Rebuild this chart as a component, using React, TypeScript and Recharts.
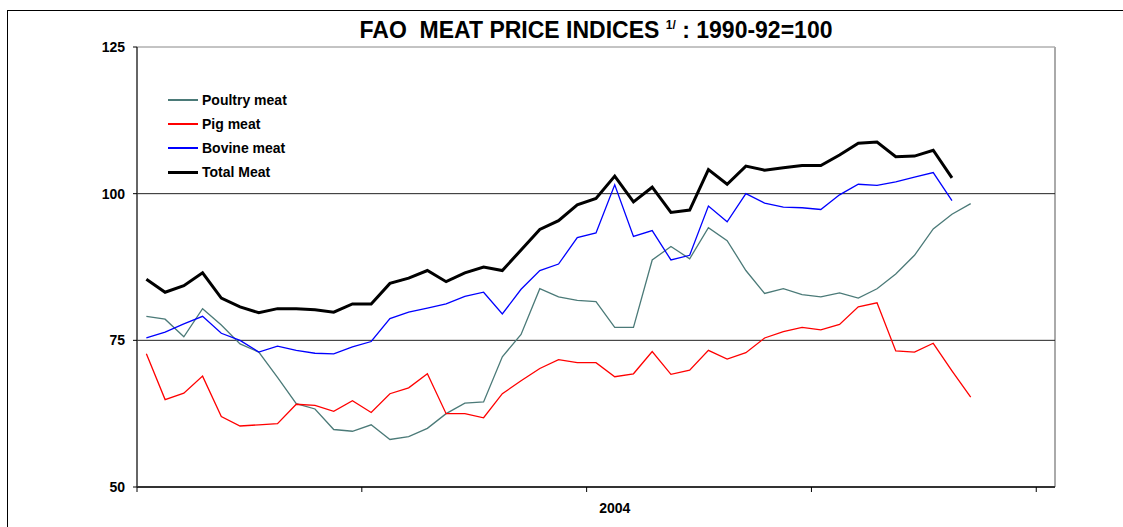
import React from "react";
import { LineChart, Line, XAxis, YAxis, ReferenceLine, Legend } from "recharts";

// Monthly index values (1990-92=100), 49 monthly categories on the axis
const poultry = [
  79.1, 78.6, 75.6, 80.4, 77.6, 74.4, 73.0, 68.7, 64.2, 63.3, 59.8, 59.5,
  60.6, 58.1, 58.6, 60.0, 62.5, 64.3, 64.5, 72.2, 76.0, 83.8, 82.4, 81.8,
  81.6, 77.2, 77.2, 88.7, 91.0, 88.9, 94.2, 92.0, 86.9, 83.0, 83.8, 82.8,
  82.4, 83.1, 82.2, 83.8, 86.3, 89.5, 94.0, 96.5, 98.3,
];
const pig = [
  72.7, 64.9, 66.0, 68.9, 62.0, 60.4, 60.6, 60.8, 64.1, 63.9, 62.9, 64.7,
  62.7, 65.9, 66.9, 69.3, 62.5, 62.5, 61.8, 65.9, 68.1, 70.2, 71.7, 71.2,
  71.2, 68.8, 69.3, 73.1, 69.2, 69.9, 73.3, 71.8, 72.9, 75.4, 76.5, 77.2,
  76.8, 77.7, 80.7, 81.4, 73.2, 73.0, 74.5, 69.8, 65.3,
];
const bovine = [
  75.4, 76.4, 77.8, 79.1, 76.2, 75.0, 73.0, 74.0, 73.3, 72.8, 72.7, 73.9,
  74.8, 78.7, 79.8, 80.5, 81.2, 82.5, 83.2, 79.5, 83.7, 86.9, 88.0, 92.5,
  93.3, 101.5, 92.7, 93.7, 88.7, 89.5, 97.9, 95.2, 100.0, 98.4, 97.7, 97.6,
  97.3, 99.8, 101.6, 101.4, 102.0, 102.8, 103.6, 98.8,
];
const total = [
  85.4, 83.2, 84.3, 86.5, 82.2, 80.7, 79.7, 80.4, 80.4, 80.2, 79.8, 81.2,
  81.2, 84.7, 85.6, 86.9, 85.0, 86.5, 87.5, 86.9, 90.4, 93.9, 95.4, 98.1,
  99.2, 103.0, 98.6, 101.1, 96.8, 97.2, 104.1, 101.6, 104.7, 104.0, 104.4, 104.8,
  104.8, 106.6, 108.6, 108.8, 106.3, 106.4, 107.4, 102.7,
];

const categoryCount = 49;
const yTicks = [50, 75, 100, 125];
const yearBoundaries = [0, 12, 24, 36, 48];
const yearLabelCategory = [25];
const yearLabelText = ["2004"];
const gridValues = [75, 100];

const series = [
  { key: "poultry", name: "Poultry meat", values: poultry, color: "#4b7a78", width: 1.3 },
  { key: "pig", name: "Pig meat", values: pig, color: "#ff0000", width: 1.3 },
  { key: "bovine", name: "Bovine meat", values: bovine, color: "#0000ff", width: 1.3 },
  { key: "total", name: "Total Meat", values: total, color: "#000000", width: 3 },
];

const data = Array.from({ length: categoryCount }, (_, i) => {
  const row: Record<string, number> = { x: i + 0.5 };
  series.forEach((s) => {
    if (i < s.values.length) row[s.key] = s.values[i];
  });
  return row;
});

const FONT = "'Liberation Sans', Arial, sans-serif";

const LegendContent = () => (
  <div style={{ fontFamily: FONT, fontWeight: "bold", fontSize: 14, color: "#000" }}>
    {series.map((s) => (
      <div key={s.key} style={{ display: "flex", alignItems: "center", height: 24 }}>
        <div style={{ width: 30, height: s.width > 2 ? 3 : 1.5, background: s.color, marginRight: 4 }} />
        <span>{s.name}</span>
      </div>
    ))}
  </div>
);

export default function App() {
  return (
    <div
      style={{
        position: "fixed",
        left: 0,
        top: 0,
        width: 1123,
        height: 527,
        overflow: "hidden",
        background: "#fff",
      }}
    >
      <div
        style={{
          position: "absolute",
          left: 7,
          top: 10,
          width: 1300,
          height: 700,
          border: "1px solid #000",
        }}
      />
      <div
        style={{
          position: "absolute",
          left: 137,
          width: 918,
          top: 19,
          textAlign: "center",
          fontFamily: FONT,
          fontWeight: "bold",
          fontSize: 23,
          lineHeight: "23px",
          whiteSpace: "pre",
          color: "#000",
        }}
      >
        {"FAO  MEAT PRICE INDICES "}
        <span style={{ fontSize: 12, position: "relative", top: -9 }}>1/</span>
        {" : 1990-92=100"}
      </div>
      <div style={{ position: "absolute", left: 0, top: 0 }}>
        <LineChart
          width={1123}
          height={527}
          data={data}
          margin={{ top: 47, right: 68, left: 0, bottom: 10 }}
        >
          <XAxis
            xAxisId="axis0"
            type="number"
            dataKey="x"
            domain={[0, categoryCount]}
            ticks={yearBoundaries}
            tickFormatter={() => ""}
            tickSize={5}
            tickMargin={0}
            height={5}
            stroke="#333"
            strokeWidth={2}
            tickLine={{ stroke: "#000", strokeWidth: 1 }}
            tick={{ fontSize: 1, fill: "none" }}
          />
          <XAxis
            xAxisId="axis1"
            type="number"
            dataKey="x"
            domain={[0, categoryCount]}
            ticks={yearLabelCategory.map((c) => c + 0.5)}
            tickFormatter={(v: number) => {
              const idx = yearLabelCategory.findIndex((c) => c + 0.5 === v);
              return idx >= 0 ? yearLabelText[idx] : "";
            }}
            axisLine={false}
            tickLine={false}
            tickMargin={5}
            height={25}
            tick={{ fontFamily: FONT, fontWeight: "bold", fontSize: 14, fill: "#000" }}
          />
          <YAxis
            type="number"
            domain={[50, 125]}
            ticks={yTicks}
            width={137}
            tickSize={4}
            tickMargin={8}
            stroke="#333"
            strokeWidth={1.5}
            tickLine={{ stroke: "#000", strokeWidth: 1 }}
            tick={{ fontFamily: FONT, fontWeight: "bold", fontSize: 14, fill: "#000" }}
          />
          <ReferenceLine xAxisId="axis0" y={125} stroke="#888" strokeWidth={1} />
          <ReferenceLine xAxisId="axis0" x={categoryCount} stroke="#aaa" strokeWidth={2} />
          {gridValues.map((g) => (
            <ReferenceLine key={g} xAxisId="axis0" y={g} stroke="#222" strokeWidth={1} />
          ))}
          {series.map((s) => (
            <Line
              key={s.key}
              xAxisId="axis0"
              type="linear"
              dataKey={s.key}
              name={s.name}
              stroke={s.color}
              strokeWidth={s.width}
              dot={false}
              activeDot={false}
              isAnimationActive={false}
            />
          ))}
          <Legend
            layout="vertical"
            align="center"
            verticalAlign="middle"
            content={<LegendContent />}
            wrapperStyle={{ left: 168, top: 88, width: 200, height: 100 }}
          />
        </LineChart>
      </div>
    </div>
  );
}
